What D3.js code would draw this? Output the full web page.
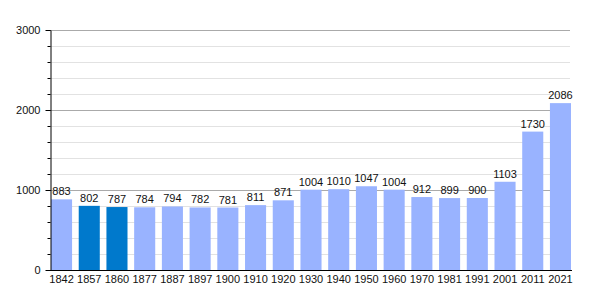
<!DOCTYPE html>
<html>
<head>
<meta charset="utf-8">
<script src="https://cdn.jsdelivr.net/npm/d3@7"></script>
<style>
  body { margin: 0; background: #fff; }
  text { font-family: "Liberation Sans", Arial, sans-serif; font-size: 11px; fill: #111; }
</style>
</head>
<body>
<script>
// Population data
const years = ["1842", "1857", "1860", "1877", "1887", "1897", "1900", "1910", "1920", "1930",
               "1940", "1950", "1960", "1970", "1981", "1991", "2001", "2011", "2021"];
const population = [883, 802, 787, 784, 794, 782, 781, 811, 871, 1004,
                    1010, 1047, 1004, 912, 899, 900, 1103, 1730, 2086];
const highlighted = ["1857", "1860"];
const majorTicks = [0, 1000, 2000, 3000];
const minorTicks = d3.range(0, 3001, 200);

const width = 600, height = 300;
const plotLeft = 50, plotRight = 571, plotTop = 30, plotBottom = 270;

const svg = d3.select("body").append("svg")
  .attr("width", width)
  .attr("height", height);

const x = d3.scaleBand()
  .domain(years)
  .range([51, plotRight])
  .paddingInner(0.24)
  .paddingOuter(0);

const y = d3.scaleLinear()
  .domain([0, 3000])
  .range([plotBottom, plotTop]);

// Gridlines
svg.append("g")
  .selectAll("line")
  .data(minorTicks.filter(d => d % 1000 !== 0))
  .enter().append("line")
  .attr("x1", plotLeft).attr("x2", 570)
  .attr("y1", d => y(d) + 0.5).attr("y2", d => y(d) + 0.5)
  .attr("stroke", "#e2e2e2");

svg.append("g")
  .selectAll("line")
  .data(majorTicks.filter(d => d > 0))
  .enter().append("line")
  .attr("x1", plotLeft).attr("x2", 570)
  .attr("y1", d => y(d) + 0.5).attr("y2", d => y(d) + 0.5)
  .attr("stroke", "#aaa");

// Bars
svg.append("g")
  .selectAll("rect")
  .data(years)
  .enter().append("rect")
  .attr("x", d => x(d))
  .attr("y", (d, i) => y(population[i]))
  .attr("width", x.bandwidth())
  .attr("height", (d, i) => plotBottom - y(population[i]))
  .attr("fill", d => highlighted.includes(d) ? "#0079cc" : "#99b3ff");

// Value labels
svg.append("g")
  .selectAll("text")
  .data(years)
  .enter().append("text")
  .attr("x", d => x(d) + x.bandwidth() / 2)
  .attr("y", (d, i) => y(population[i]) - 4)
  .attr("text-anchor", "middle")
  .text((d, i) => population[i]);

// Y axis with minor ticks
svg.append("g")
  .attr("transform", `translate(${plotLeft + 0.5},0)`)
  .call(d3.axisLeft(y).tickValues(minorTicks).tickSize(3).tickFormat(""))
  .call(g => g.select(".domain").remove())
  .selectAll("line").attr("stroke", "#000");

svg.append("g")
  .attr("transform", `translate(${plotLeft + 0.5},0)`)
  .call(d3.axisLeft(y).tickValues(majorTicks).tickFormat(d3.format("d"))
    .tickSize(5).tickPadding(5).tickSizeOuter(0))
  .call(g => g.selectAll("text").style("font-size", "11px").style("font-family", null))
  .call(g => g.selectAll("line, path").attr("stroke", "#000"));

// X axis
svg.append("g")
  .attr("transform", `translate(0,${plotBottom + 0.5})`)
  .call(d3.axisBottom(x).tickSize(0).tickPadding(5).tickSizeOuter(0))
  .call(g => g.select(".domain").attr("d", `M${plotLeft},0H572`).attr("stroke", "#000"))
  .call(g => g.selectAll("text").style("font-size", "11px").style("font-family", null));
</script>
</body>
</html>
